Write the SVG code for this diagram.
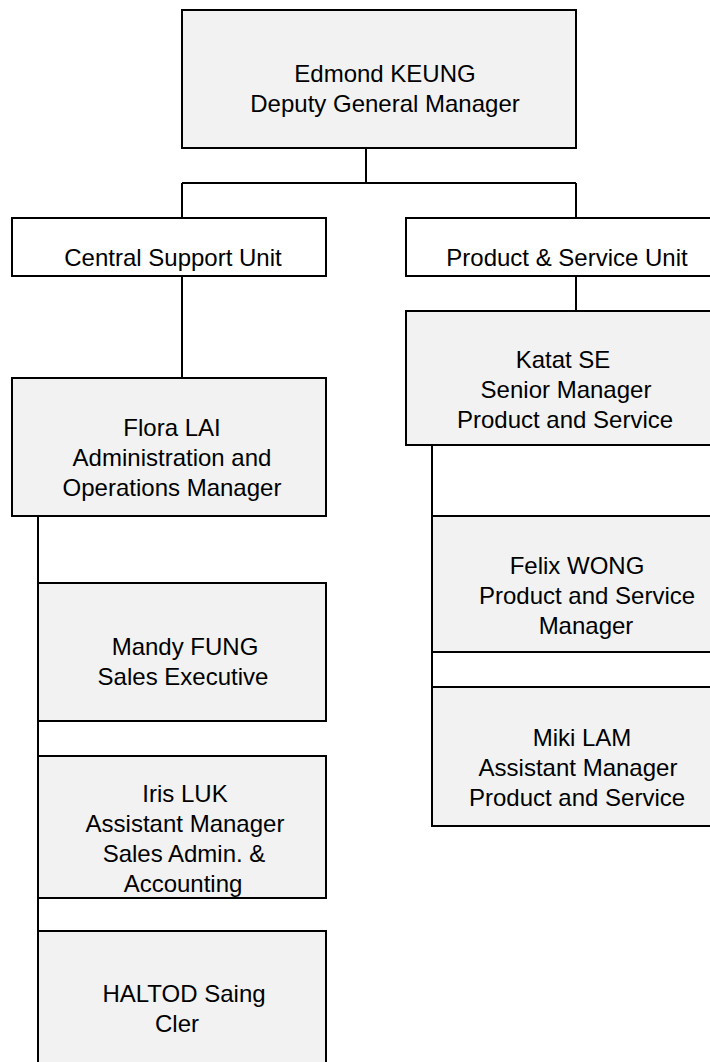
<svg xmlns="http://www.w3.org/2000/svg" width="710" height="1062" viewBox="0 0 710 1062">
<style>
.box{fill:#f2f2f2;stroke:#000;stroke-width:2}
.unit{fill:#fff;stroke:#000;stroke-width:2}
.t{font-family:"Liberation Sans",Arial,sans-serif;font-size:24px;fill:#000;text-anchor:middle}
.c{stroke:#000;stroke-width:2;fill:none}
</style>
<rect width="710" height="1062" fill="#fff"/>
<g id="connectors">
<path class="c" d="M366 148V183M182 183H576M182 183V218M576 183V218M182 276V378M38 516V1062M576 276V311M432 445V826"/>
</g>
<g id="n-edmond">
<rect class="box" x="182" y="10" width="394" height="138"/>
<text class="t" x="385" y="82">Edmond KEUNG</text>
<text class="t" x="385" y="112">Deputy General Manager</text>
</g>
<g id="n-csu">
<rect class="unit" x="12" y="218" width="314" height="58"/>
<text class="t" x="173" y="266">Central Support Unit</text>
</g>
<g id="n-psu">
<rect class="unit" x="406" y="218" width="330" height="58"/>
<text class="t" x="567" y="266">Product &amp; Service Unit</text>
</g>
<g id="n-flora">
<rect class="box" x="12" y="378" width="314" height="138"/>
<text class="t" x="172" y="436">Flora LAI</text>
<text class="t" x="172" y="466">Administration and</text>
<text class="t" x="172" y="496">Operations Manager</text>
</g>
<g id="n-mandy">
<rect class="box" x="38" y="583" width="288" height="138"/>
<text class="t" x="185" y="655">Mandy FUNG</text>
<text class="t" x="183" y="685">Sales Executive</text>
</g>
<g id="n-iris">
<rect class="box" x="38" y="756" width="288" height="142"/>
<text class="t" x="185" y="802">Iris LUK</text>
<text class="t" x="185" y="832">Assistant Manager</text>
<text class="t" x="184" y="862">Sales Admin. &amp;</text>
<text class="t" x="183" y="892">Accounting</text>
</g>
<g id="n-haltod">
<rect class="box" x="38" y="931" width="288" height="150"/>
<text class="t" x="184" y="1002">HALTOD Saing</text>
<text class="t" x="177" y="1032">Cler</text>
</g>
<g id="n-katat">
<rect class="box" x="406" y="311" width="330" height="134"/>
<text class="t" x="563" y="368">Katat SE</text>
<text class="t" x="566" y="398">Senior Manager</text>
<text class="t" x="565" y="428">Product and Service</text>
</g>
<g id="n-felix">
<rect class="box" x="432" y="516" width="300" height="136"/>
<text class="t" x="577" y="574">Felix WONG</text>
<text class="t" x="587" y="604">Product and Service</text>
<text class="t" x="586" y="634">Manager</text>
</g>
<g id="n-miki">
<rect class="box" x="432" y="687" width="300" height="139"/>
<text class="t" x="582" y="746">Miki LAM</text>
<text class="t" x="578" y="776">Assistant Manager</text>
<text class="t" x="577" y="806">Product and Service</text>
</g>
</svg>
